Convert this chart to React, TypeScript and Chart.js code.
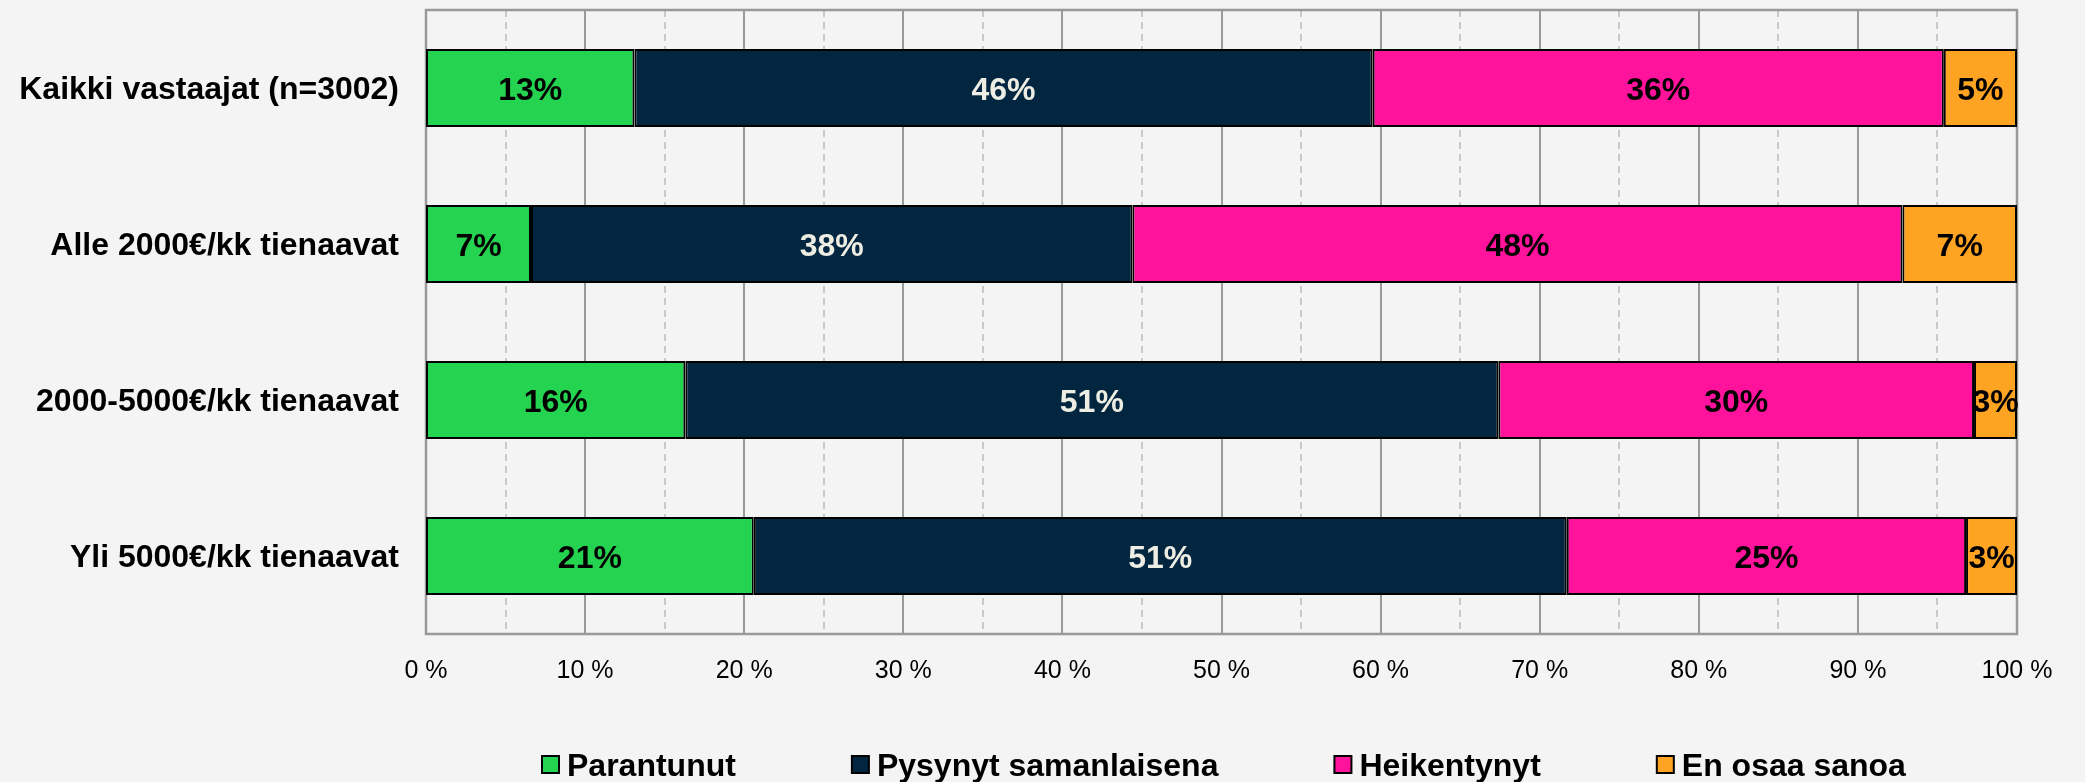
import React, { useEffect, useRef } from "react";
import { Chart, registerables } from "chart.js";

Chart.register(...registerables);

const categories = [
  "Kaikki vastaajat (n=3002)",
  "Alle 2000€/kk tienaavat",
  "2000-5000€/kk tienaavat",
  "Yli 5000€/kk tienaavat",
];
const seriesNames = ["Parantunut", "Pysynyt samanlaisena", "Heikentynyt", "En osaa sanoa"];
const parantunut = [13.1, 6.6, 16.3, 20.6];
const pysynyt = [46.4, 37.8, 51.1, 51.1];
const heikentynyt = [35.9, 48.4, 29.9, 25.1];
const enOsaa = [4.6, 7.2, 2.7, 3.2];
const seriesColors = ["#24d350", "#02263f", "#ff139c", "#ffa322"];
const labelColors = ["#000000", "#eeede4", "#000000", "#000000"];
const xTicks = [0, 10, 20, 30, 40, 50, 60, 70, 80, 90, 100];

const FONT = "'Liberation Sans', Arial, sans-serif";
const BG = "#f4f4f4";

export default function App() {
  const ref = useRef<HTMLCanvasElement | null>(null);

  useEffect(() => {
    document.body.style.margin = "0";
    document.body.style.background = BG;
    const canvas = ref.current;
    if (!canvas) return;

    const bgPlugin = {
      id: "bgFill",
      beforeDraw(chart: any) {
        const { ctx, width, height } = chart;
        ctx.save();
        ctx.fillStyle = BG;
        ctx.fillRect(0, 0, width, height);
        ctx.restore();
      },
    };

    const gridPlugin = {
      id: "customGrid",
      beforeDatasetsDraw(chart: any) {
        const { ctx, chartArea } = chart;
        const xs = chart.scales.x;
        ctx.save();
        ctx.lineWidth = 2;
        ctx.strokeStyle = "#c9c9c9";
        ctx.setLineDash([7, 5]);
        for (let v = 5; v < 100; v += 10) {
          const px = Math.round(xs.getPixelForValue(v));
          ctx.beginPath();
          ctx.moveTo(px, chartArea.top);
          ctx.lineTo(px, chartArea.bottom);
          ctx.stroke();
        }
        ctx.setLineDash([]);
        ctx.strokeStyle = "#9a9a9a";
        for (const v of xTicks) {
          if (v === 0 || v === 100) continue;
          const px = Math.round(xs.getPixelForValue(v));
          ctx.beginPath();
          ctx.moveTo(px, chartArea.top);
          ctx.lineTo(px, chartArea.bottom);
          ctx.stroke();
        }
        ctx.lineWidth = 2.5;
        ctx.strokeStyle = "#999999";
        ctx.strokeRect(
          chartArea.left,
          chartArea.top,
          chartArea.right - chartArea.left,
          chartArea.bottom - chartArea.top
        );
        ctx.restore();
      },
    };

    const labelPlugin = {
      id: "segLabels",
      afterDatasetsDraw(chart: any) {
        const { ctx } = chart;
        ctx.save();
        ctx.font = `bold 32px ${FONT}`;
        ctx.textAlign = "center";
        ctx.textBaseline = "middle";
        chart.data.datasets.forEach((ds: any, di: number) => {
          const meta = chart.getDatasetMeta(di);
          meta.data.forEach((el: any, i: number) => {
            const v = ds.data[i];
            const cx = (el.x + el.base) / 2;
            ctx.fillStyle = labelColors[di];
            ctx.fillText(`${Math.round(v)}%`, cx, el.y + 3);
          });
        });
        ctx.restore();
      },
    };

    const legendPlugin = {
      id: "customLegend",
      afterDraw(chart: any) {
        const { ctx } = chart;
        ctx.save();
        ctx.font = `bold 32px ${FONT}`;
        ctx.textBaseline = "alphabetic";
        ctx.textAlign = "left";
        const box = 17;
        const gapText = 8;
        const gapItem = 116;
        let x = 542;
        const baseline = 776;
        const boxTop = 756;
        seriesNames.forEach((name, i) => {
          ctx.fillStyle = seriesColors[i];
          ctx.fillRect(x, boxTop, box, box);
          ctx.lineWidth = 2;
          ctx.strokeStyle = "#000";
          ctx.strokeRect(x, boxTop, box, box);
          ctx.fillStyle = "#000";
          const tx = x + box + gapText;
          ctx.fillText(name, tx, baseline);
          x = tx + ctx.measureText(name).width + gapItem;
        });
        ctx.restore();
      },
    };

    const seriesData = [parantunut, pysynyt, heikentynyt, enOsaa];

    const chart = new Chart(canvas, {
      type: "bar",
      data: {
        labels: categories,
        datasets: seriesNames.map((name, i) => ({
          label: name,
          data: seriesData[i],
          backgroundColor: seriesColors[i],
          borderColor: "#000000",
          borderWidth: 2,
          borderSkipped: false,
          barPercentage: 0.5,
          categoryPercentage: 1,
        })),
      },
      options: {
        indexAxis: "y",
        responsive: false,
        animation: false,
        devicePixelRatio: 1,
        layout: { padding: { top: 10, right: 68, left: 0, bottom: 0 } },
        plugins: {
          legend: { display: false },
          tooltip: { enabled: false },
          title: { display: false },
        },
        scales: {
          x: {
            stacked: true,
            min: 0,
            max: 100,
            afterBuildTicks(scale: any) {
              scale.ticks = xTicks.map((v) => ({ value: v }));
            },
            afterFit(scale: any) {
              scale.height = 148;
              scale.paddingLeft = 0;
              scale.paddingRight = 0;
            },
            grid: { display: false, drawTicks: false },
            border: { display: false },
            ticks: {
              padding: 22,
              color: "#000",
              font: { family: FONT, size: 25 },
              maxRotation: 0,
              autoSkip: false,
              callback: (v: any) => `${v} %`,
            },
          },
          y: {
            stacked: true,
            afterFit(scale: any) {
              scale.width = 426;
              scale.paddingTop = 0;
              scale.paddingBottom = 0;
            },
            grid: { display: false, drawTicks: false },
            border: { display: false },
            ticks: {
              padding: 27,
              labelOffset: 2,
              color: "#000",
              font: { family: FONT, size: 32, weight: "bold" },
            },
          },
        },
      } as any,
      plugins: [bgPlugin, gridPlugin, labelPlugin, legendPlugin],
    });

    return () => chart.destroy();
  }, []);

  return (
    <div style={{ width: 2085, height: 782, background: BG }}>
      <canvas ref={ref} width={2085} height={782} style={{ display: "block" }} />
    </div>
  );
}
